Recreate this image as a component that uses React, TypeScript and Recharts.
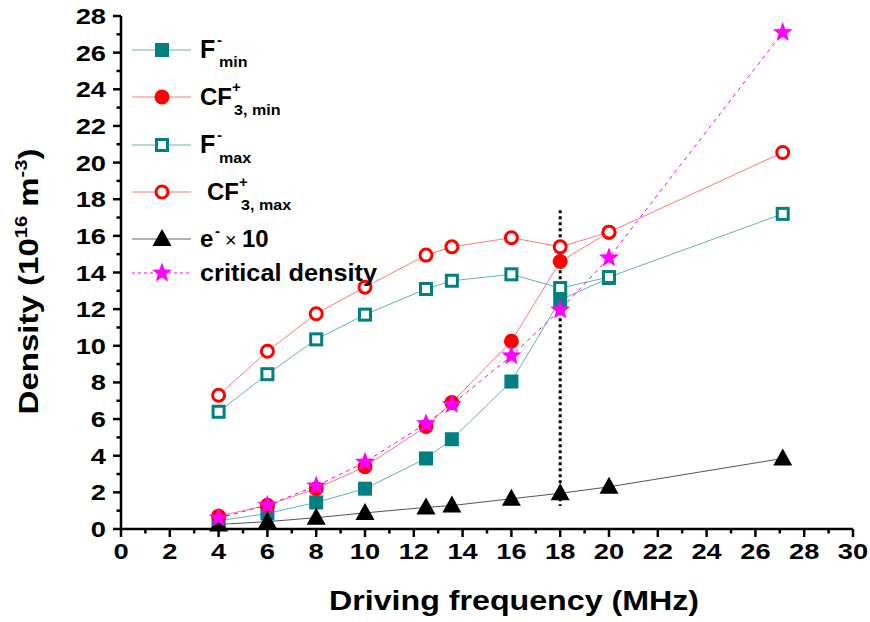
import React from 'react';
import { LineChart, Line, XAxis, YAxis, ReferenceLine, Legend } from 'recharts';

// driving frequency (MHz)
const freq = [4, 6, 8, 10, 12.5, 13.56, 16, 18, 20, 27.12];

// densities in 1e16 m^-3
const fMin = [0.45, 0.85, 1.45, 2.2, 3.85, 4.9, 8.05, 12.5, 13.7];
const cf3Min = [0.7, 1.3, 2.2, 3.4, 5.6, 6.9, 10.25, 14.6, 16.2];
const fMax = [6.4, 8.45, 10.35, 11.7, 13.1, 13.55, 13.9, 13.15, 13.75, 17.2];
const cf3Max = [7.3, 9.7, 11.75, 13.2, 14.95, 15.4, 15.9, 15.4, 16.2, 20.55];
const eTimes10 = [0.25, 0.4, 0.62, 0.88, 1.18, 1.28, 1.65, 1.95, 2.3, 3.85];
const critical = [0.6, 1.3, 2.35, 3.65, 5.75, 6.8, 9.45, 11.95, 14.8, 27.1];

const xTicks = Array.from({ length: 31 }, (_, i) => i);
const yTicks = Array.from({ length: 29 }, (_, i) => i);

const FONT = '"Liberation Sans", Arial, sans-serif';
const TEAL = '#008080';
const TEAL_LINE = '#66b2b2';
const RED = '#ff0000';
const RED_LINE = '#ff7a7a';
const MAGENTA = '#ff00ff';

const pts = (ys: number[]) => ys.map((y, i) => ({ x: freq[i], y }));

const starPoints = (cx: number, cy: number, r: number) => {
  const out: string[] = [];
  for (let i = 0; i < 10; i++) {
    const rad = i % 2 === 0 ? r : r * 0.42;
    const a = -Math.PI / 2 + (i * Math.PI) / 5;
    out.push(`${cx + rad * Math.cos(a)},${cy + rad * Math.sin(a)}`);
  }
  return out.join(' ');
};

const Marker = ({ kind, cx, cy }: { kind: string; cx: number; cy: number }) => {
  switch (kind) {
    case 'fsq':
      return <rect x={cx - 7} y={cy - 7} width={14} height={14} fill={TEAL} />;
    case 'osq':
      return <rect x={cx - 5.5} y={cy - 5.5} width={11} height={11} fill="#fff" stroke={TEAL} strokeWidth={3} />;
    case 'fci':
      return <circle cx={cx} cy={cy} r={7.5} fill={RED} />;
    case 'oci':
      return <circle cx={cx} cy={cy} r={6} fill="#fff" stroke={RED} strokeWidth={3} />;
    case 'tri':
      return <polygon points={`${cx},${cy - 10} ${cx + 9.5},${cy + 7} ${cx - 9.5},${cy + 7}`} fill="#000" />;
    default:
      return <polygon points={starPoints(cx, cy, 10.5)} fill={MAGENTA} />;
  }
};

const dotOf = (kind: string) => (p: any) => (
  <Marker key={`${kind}-${p.index}`} kind={kind} cx={p.cx} cy={p.cy} />
);

const BottomTick = ({ x, y, payload }: any) => {
  const major = payload.value % 2 === 0;
  return (
    <g>
      <line x1={x} x2={x} y1={y} y2={y + (major ? 8 : 4.5)} stroke="#000" strokeWidth={2.5} />
      {major && (
        <text transform={`translate(${x},${y + 30}) scale(1.24,1)`} textAnchor="middle"
          fontSize={22} fontWeight="bold" fontFamily={FONT} fill="#000">
          {payload.value}
        </text>
      )}
    </g>
  );
};

const TopTick = ({ x, y, payload }: any) => {
  const major = payload.value % 2 === 0;
  return <line x1={x} x2={x} y1={y} y2={y + (major ? 7 : 4)} stroke="#000" strokeWidth={2.5} />;
};

const LeftTick = ({ x, y, payload }: any) => {
  const major = payload.value % 2 === 0;
  return (
    <g>
      <line x1={x} x2={x - (major ? 8 : 4.5)} y1={y} y2={y} stroke="#000" strokeWidth={2.5} />
      {major && (
        <text transform={`translate(${x - 15},${y + 8}) scale(1.24,1)`} textAnchor="end"
          fontSize={22} fontWeight="bold" fontFamily={FONT} fill="#000">
          {payload.value}
        </text>
      )}
    </g>
  );
};

const RightTick = ({ x, y, payload }: any) => {
  const major = payload.value % 2 === 0;
  return <line x1={x} x2={x - (major ? 7 : 4)} y1={y} y2={y} stroke="#000" strokeWidth={2.5} />;
};

const XTitle = ({ viewBox }: any) => (
  <text transform={`translate(${viewBox.x + viewBox.width / 2 + 27},${viewBox.y + 81}) scale(1.15,1)`}
    textAnchor="middle" fontSize={28} fontWeight="bold" fontFamily={FONT} fill="#000">
    Driving frequency (MHz)
  </text>
);

const YTitle = ({ viewBox }: any) => (
  <text transform={`translate(38,${viewBox.y + viewBox.height / 2 + 9}) rotate(-90) scale(1.18,1)`}
    textAnchor="middle" fontSize={28} fontWeight="bold" fontFamily={FONT} fill="#000">
    Density (10<tspan dy={-11} fontSize={17}>16</tspan>
    <tspan dy={11}> m</tspan>
    <tspan dy={-11} fontSize={17}>-3</tspan>
    <tspan dy={11}>)</tspan>
  </text>
);

const legendItems = [
  { kind: 'fsq', line: TEAL_LINE, dash: undefined, y: 50 },
  { kind: 'fci', line: RED_LINE, dash: undefined, y: 97 },
  { kind: 'osq', line: TEAL_LINE, dash: undefined, y: 145 },
  { kind: 'oci', line: RED_LINE, dash: undefined, y: 192 },
  { kind: 'tri', line: '#666', dash: undefined, y: 239 },
  { kind: 'star', line: MAGENTA, dash: '3 3', y: 273 },
];

const LT = ({ x, y, size, children, weight = 'bold', sx = 1 }: any) => (
  <text transform={`translate(${x},${y}) scale(${sx},1)`} fontSize={size} fontWeight={weight}
    fontFamily={FONT} fill="#000">
    {children}
  </text>
);

const LegendBox = () => (
  <svg width={400} height={300} style={{ display: 'block' }}>
    {legendItems.map((it) => (
      <g key={it.kind}>
        <line x1={132} x2={191} y1={it.y} y2={it.y} stroke={it.line} strokeWidth={1.2} strokeDasharray={it.dash} />
        <Marker kind={it.kind} cx={162} cy={it.y} />
      </g>
    ))}
    <LT x={200} y={58} size={25}>F</LT>
    <LT x={217} y={45} size={15}>-</LT>
    <LT x={219} y={67} size={14} sx={1.15}>min</LT>

    <LT x={200} y={105} size={24}>CF</LT>
    <LT x={232} y={92} size={15}>+</LT>
    <LT x={234} y={115} size={14} sx={1.15}>3, min</LT>

    <LT x={200} y={153} size={25}>F</LT>
    <LT x={217} y={140} size={15}>-</LT>
    <LT x={219} y={163} size={14} sx={1.15}>max</LT>

    <LT x={207} y={200} size={24}>CF</LT>
    <LT x={239} y={187} size={15}>+</LT>
    <LT x={241} y={210} size={14} sx={1.15}>3, max</LT>

    <LT x={200} y={247} size={24}>e</LT>
    <LT x={215} y={236} size={15}>-</LT>
    <LT x={225} y={247} size={20} weight="normal">×</LT>
    <LT x={242} y={247} size={24}>10</LT>

    <LT x={200} y={281} size={23} sx={1.1}>critical density</LT>
  </svg>
);

export default function App() {
  return (
    <div style={{ position: 'absolute', left: 0, top: 0, width: 870, height: 622, background: '#fff' }}>
      <LineChart width={870} height={622} margin={{ top: 16, right: 17, left: 71, bottom: 53 }}>
        <XAxis type="number" dataKey="x" domain={[0, 30]} ticks={xTicks} interval={0} height={40}
          axisLine={{ stroke: '#000', strokeWidth: 2.5 }} tickLine={false} tickSize={0} tickMargin={0}
          tick={<BottomTick />} label={{ content: <XTitle /> }} allowDuplicatedCategory={false} />
        <XAxis xAxisId="top" orientation="top" type="number" domain={[0, 30]} ticks={xTicks} interval={0}
          height={0} axisLine={{ stroke: '#000', strokeWidth: 2.5 }} tickLine={false} tickSize={0}
          tickMargin={0} tick={<TopTick />} />
        <YAxis type="number" domain={[0, 28]} ticks={yTicks} interval={0} width={50}
          axisLine={{ stroke: '#000', strokeWidth: 2.5 }} tickLine={false} tickSize={0} tickMargin={0}
          tick={<LeftTick />} label={{ content: <YTitle /> }} />
        <YAxis yAxisId="right" orientation="right" type="number" domain={[0, 28]} ticks={yTicks}
          interval={0} width={0} axisLine={{ stroke: '#000', strokeWidth: 2.5 }} tickLine={false}
          tickSize={0} tickMargin={0} tick={<RightTick />} />
        <Legend layout="vertical" align="center" verticalAlign="middle" content={<LegendBox />}
          wrapperStyle={{ left: 0, top: 0, width: 400, height: 300 }} />
        <Line data={pts(fMin)} dataKey="y" name="F- min" stroke={TEAL_LINE} strokeWidth={1}
          dot={dotOf('fsq')} isAnimationActive={false} />
        <Line data={pts(cf3Min)} dataKey="y" name="CF3+ min" stroke={RED_LINE} strokeWidth={1}
          dot={dotOf('fci')} isAnimationActive={false} />
        <Line data={pts(fMax)} dataKey="y" name="F- max" stroke={TEAL_LINE} strokeWidth={1}
          dot={dotOf('osq')} isAnimationActive={false} />
        <Line data={pts(cf3Max)} dataKey="y" name="CF3+ max" stroke={RED_LINE} strokeWidth={1}
          dot={dotOf('oci')} isAnimationActive={false} />
        <Line data={pts(eTimes10)} dataKey="y" name="e- x 10" stroke="#555" strokeWidth={1}
          dot={dotOf('tri')} isAnimationActive={false} />
        <Line data={pts(critical)} dataKey="y" name="critical density" stroke={MAGENTA} strokeWidth={1}
          strokeDasharray="4 4" dot={dotOf('star')} isAnimationActive={false} />
        <ReferenceLine segment={[{ x: 18, y: 17.4 }, { x: 18, y: 1.25 }]} stroke="#000"
          strokeWidth={3} strokeDasharray="3 3" />
      </LineChart>
    </div>
  );
}
